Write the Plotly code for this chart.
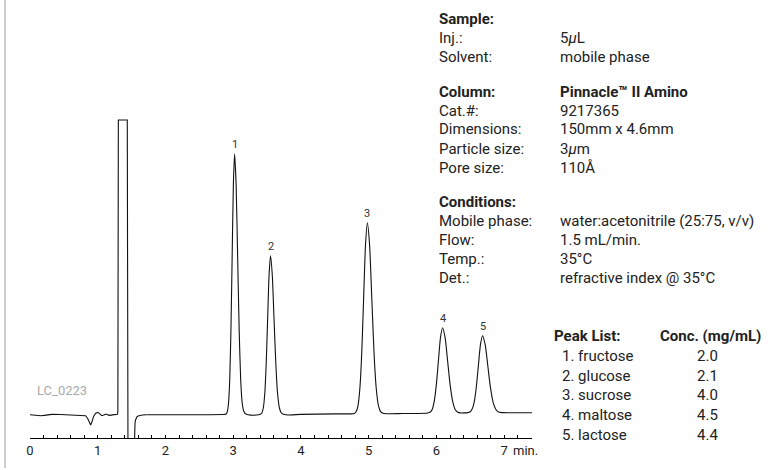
import plotly.graph_objects as go

# ---------------- data (time in min, detector signal in arbitrary units) ----------------
# segment with solvent front (drawn straight)
time_a = [0.00, 0.08, 0.16, 0.24, 0.32, 0.45, 0.60, 0.75, 0.82, 0.85, 0.875, 0.895, 0.915,
          0.94, 0.97, 1.00, 1.03, 1.06, 1.09, 1.12, 1.15, 1.18, 1.22, 1.26, 1.29, 1.297,
          1.300, 1.304, 1.436, 1.440, 1.443, 1.447, 1.530, 1.538, 1.541, 1.545, 1.550,
          1.557, 1.566, 1.578, 1.595, 1.620, 1.660, 1.720]
signal_a = [0.0, -0.3, -1.0, -0.4, 0.3, 0.2, 0.0, -0.2, -1.0, -3.5, -8.0, -10.3, -7.0,
            -1.5, 1.5, 2.3, 0.8, -1.0, -0.3, 0.6, -0.2, -0.7, -0.2, 0.0, 0.5, 3.0,
            60.0, 294.7, 294.7, 60.0, -10.0, -60.0, -60.0, -30.0, -20.0, -13.0, -8.5,
            -5.5, -3.5, -2.2, -1.3, -0.7, -0.3, 0.0]

# segment with the analyte peaks (smoothed)
time_b = [1.72, 2.30, 2.85, 2.89, 2.912, 2.93, 2.948, 2.966, 2.984, 3.002, 3.02, 3.0425,
          3.065, 3.0875, 3.11, 3.1325, 3.155, 3.18, 3.22, 3.30, 3.38, 3.40, 3.424, 3.445,
          3.466, 3.487, 3.508, 3.529, 3.55, 3.576, 3.602, 3.628, 3.654, 3.68, 3.706, 3.73,
          3.80, 4.00, 4.50, 4.79, 4.815, 4.8425, 4.87, 4.8975, 4.925, 4.9525, 4.98, 5.0125,
          5.045, 5.0775, 5.11, 5.1425, 5.175, 5.21, 5.26, 5.50, 5.85, 5.87, 5.904, 5.935,
          5.966, 5.997, 6.028, 6.059, 6.09, 6.1275, 6.165, 6.2025, 6.24, 6.2775, 6.315,
          6.35, 6.40, 6.46, 6.494, 6.525, 6.556, 6.587, 6.618, 6.649, 6.68, 6.719, 6.758,
          6.797, 6.836, 6.875, 6.914, 6.96, 7.10, 7.41]
signal_b = [0.0, 0.0, 0.2, 0.5, 3.0, 11.5, 35.0, 85.0, 158.0, 230.0, 261.0, 230.0,
            158.0, 85.0, 35.0, 11.5, 3.5, 1.0, 0.0, -0.5, 0.0, 0.5, 2.0, 7.2,
            21.7, 52.0, 96.0, 140.0, 159.0, 140.0, 96.0, 52.0, 21.7, 7.2, 2.2, 0.6,
            -0.3, 0.3, 0.8, 1.3, 3.1, 9.4, 27.0, 63.0, 117.0, 170.0, 192.0, 170.0,
            117.0, 63.0, 27.0, 9.4, 3.1, 1.4, 1.0, 1.2, 1.5, 1.7, 2.4, 5.0,
            13.0, 29.3, 53.3, 77.0, 87.0, 77.0, 53.3, 29.3, 13.0, 5.0, 2.5,
            1.8, 1.8, 2.1, 2.7, 5.4, 12.4, 27.0, 48.7, 70.0, 79.0, 70.0, 48.7,
            27.0, 12.4, 5.4, 2.7, 2.1, 2.0, 2.0]

peak_ids = ["1", "2", "3", "4", "5"]
peak_times = [3.02, 3.55, 4.98, 6.09, 6.68]
peak_heights = [261.0, 159.0, 192.0, 87.0, 79.0]

tick_vals = [0, 1, 2, 3, 4, 5, 6, 7]
tick_text = ["0", "1", "2", "3", "4", "5", "6", "7"]

info_labels = ["Sample:", "Inj.:", "Solvent:", "Column:", "Cat.#:", "Dimensions:",
               "Particle size:", "Pore size:", "Conditions:", "Mobile phase:", "Flow:",
               "Temp.:", "Det.:"]
info_values = ["", "5<i>\u03bc</i>L", "mobile phase", "Pinnacle\u2122 II Amino", "9217365",
               "150mm x 4.6mm", "3<i>\u03bc</i>m", "110\u00c5", "",
               "water:acetonitrile (25:75, v/v)", "1.5 mL/min.", "35\u00b0C",
               "refractive index @ 35\u00b0C"]
info_bold = [True, False, False, True, False, False, False, False, True, False, False,
             False, False]

peak_names = ["1. fructose", "2. glucose", "3. sucrose", "4. maltose", "5. lactose"]
peak_conc = ["2.0", "2.1", "4.0", "4.5", "4.4"]

# ---------------- layout helpers ----------------
W, H = 774, 470
ML, MR, MT, MB = 30, 242, 100, 32
PW, PH = W - ML - MR, H - MT - MB


def px(x):
    return (x - ML) / PW


def py(y):
    return (H - MB - y) / PH


FONT = "Roboto, Liberation Sans, sans-serif"
TXT = "#222222"
FS = 15

fig = go.Figure()
fig.add_trace(go.Scatter(x=time_a, y=signal_a, mode="lines",
                         line=dict(color="#111111", width=1.1, shape="linear"),
                         hoverinfo="skip", showlegend=False))
fig.add_trace(go.Scatter(x=time_b, y=signal_b, mode="lines",
                         line=dict(color="#111111", width=1.1, shape="spline", smoothing=0.6),
                         hoverinfo="skip", showlegend=False))

annotations = []
for pid, t, h in zip(peak_ids, peak_times, peak_heights):
    annotations.append(dict(x=t, y=h, xref="x", yref="y", text=pid, showarrow=False,
                            yanchor="bottom", yshift=1,
                            font=dict(family=FONT, size=11, color="#333333")))

annotations.append(dict(x=px(511), y=py(450.5), xref="paper", yref="paper", text="min.",
                        showarrow=False, xanchor="left", yanchor="middle",
                        font=dict(family=FONT, size=13, color=TXT)))

row_y = [19, 38, 57, 91.5, 110.5, 129.5, 148.5, 167.5, 202, 221, 240, 259, 278]
for lab, val, b, yy in zip(info_labels, info_values, info_bold, row_y):
    t1 = "<b>%s</b>" % lab if b else lab
    annotations.append(dict(x=px(437), y=py(yy), xref="paper", yref="paper", text=t1,
                            showarrow=False, xanchor="left", yanchor="middle",
                            font=dict(family=FONT, size=FS, color=TXT)))
    if val:
        t2 = "<b>%s</b>" % val if b else val
        annotations.append(dict(x=px(558), y=py(yy), xref="paper", yref="paper", text=t2,
                                showarrow=False, xanchor="left", yanchor="middle",
                                font=dict(family=FONT, size=FS, color=TXT)))

annotations.append(dict(x=px(552), y=py(336), xref="paper", yref="paper",
                        text="<b>Peak List:</b>", showarrow=False, xanchor="left",
                        yanchor="middle", font=dict(family=FONT, size=FS, color=TXT)))
annotations.append(dict(x=px(658), y=py(336), xref="paper", yref="paper",
                        text="<b>Conc. (mg/mL)</b>", showarrow=False, xanchor="left",
                        yanchor="middle", font=dict(family=FONT, size=FS, color=TXT)))
list_y = [355.8, 375.6, 395.4, 415.2, 435]
for nm, cc, yy in zip(peak_names, peak_conc, list_y):
    annotations.append(dict(x=px(560), y=py(yy), xref="paper", yref="paper", text=nm,
                            showarrow=False, xanchor="left", yanchor="middle",
                            font=dict(family=FONT, size=FS, color=TXT)))
    annotations.append(dict(x=px(707), y=py(yy), xref="paper", yref="paper", text=cc,
                            showarrow=False, xanchor="center", yanchor="middle",
                            font=dict(family=FONT, size=FS, color=TXT)))

annotations.append(dict(x=px(35), y=py(390), xref="paper", yref="paper", text="LC_0223",
                        showarrow=False, xanchor="left", yanchor="middle",
                        font=dict(family=FONT, size=13, color="#aaaaaa")))

fig.update_layout(
    width=W, height=H,
    margin=dict(l=ML, r=MR, t=MT, b=MB, pad=0),
    paper_bgcolor="white", plot_bgcolor="white",
    showlegend=False,
    annotations=annotations,
    shapes=[dict(type="line", xref="paper", yref="paper", x0=px(5), x1=px(5),
                 y0=py(0), y1=py(468), line=dict(color="#bdbdbd", width=1.5))],
    xaxis=dict(range=[0, 7.41], showgrid=False, zeroline=False, showline=True,
               linecolor="black", linewidth=1, ticks="inside", ticklen=3,
               tickcolor="black", tickwidth=1, tickvals=tick_vals, ticktext=tick_text,
               tickfont=dict(family=FONT, size=13, color=TXT),
               minor=dict(dtick=0.2, tick0=0, ticks="inside", ticklen=3,
                          tickcolor="black", tickwidth=1, showgrid=False),
               fixedrange=True),
    yaxis=dict(range=[-23.3, 314.7], visible=False, fixedrange=True),
)

fig.write_html("out.html")
